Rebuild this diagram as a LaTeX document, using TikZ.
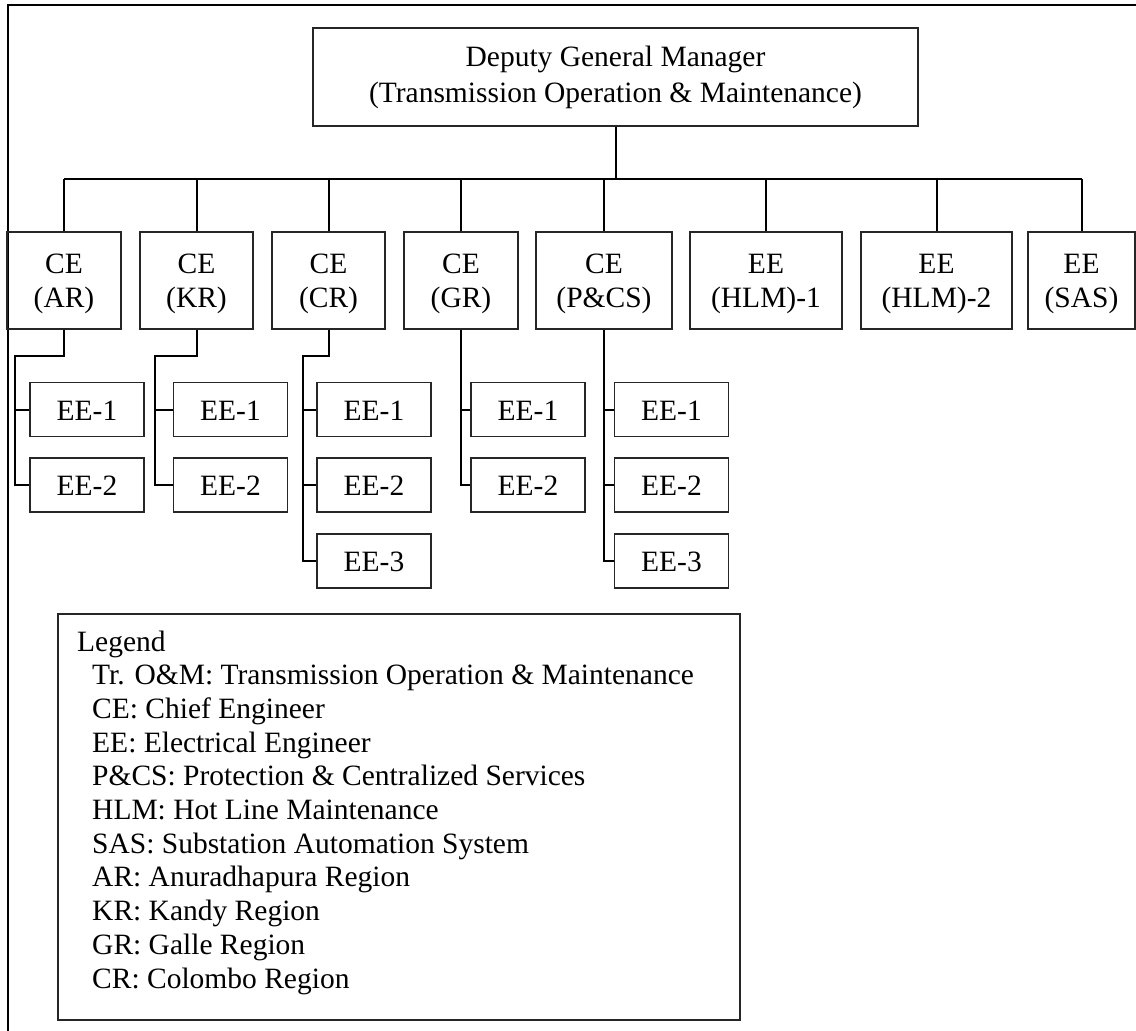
\documentclass[tikz,border=0pt]{standalone}
\usepackage{fontspec}
\setmainfont{Liberation Serif}
\begin{document}
\begin{tikzpicture}[x=1pt,y=-1pt,
  box/.style={draw=black!85, line width=1.3pt, align=center, inner sep=0pt,
    font=\fontsize{29.5}{34}\selectfont},
  cebox/.style={box, minimum height=97pt, text height=61pt, text depth=7pt},
  eebox/.style={box, minimum width=114pt, minimum height=54pt,
    text height=24pt, text depth=3pt},
  conn/.style={line width=2pt, line join=miter}]
\useasboundingbox (0,0) rectangle (1136,1031);

% outer frame (top and left edges)
\draw[line width=2pt] (7.5,1031) -- (7.5,4.5) -- (1136,4.5);

% head of the organisation
\node[box, font=\fontsize{29.5}{36}\selectfont, minimum width=605pt,
  minimum height=98pt, text height=56pt, text depth=6pt] (dgm) at (615.5,77)
  {Deputy General Manager\\(Transmission Operation \& Maintenance)};

% second level
\node[cebox, minimum width=114pt] (ar)   at (64,280.5)    {CE\\(AR)};
\node[cebox, minimum width=113pt] (kr)   at (196.5,280.5) {CE\\(KR)};
\node[cebox, minimum width=113pt] (cr)   at (328.5,280.5) {CE\\(CR)};
\node[cebox, minimum width=114pt] (gr)   at (461,280.5)   {CE\\(GR)};
\node[cebox, minimum width=136pt] (pcs)  at (604,280.5)   {CE\\(P\&CS)};
\node[cebox, minimum width=152pt] (hlma) at (766,280.5)   {EE\\(HLM)-1};
\node[cebox, minimum width=151pt] (hlmb) at (936.5,280.5) {EE\\(HLM)-2};
\node[cebox, minimum width=107pt] (sas)  at (1081.5,280.5) {EE\\(SAS)};

% third level
\node[eebox] (ar1) at (87,409.5) {EE-1};
\node[eebox] (ar2) at (87,485)   {EE-2};
\node[eebox] (kr1) at (230.5,409.5) {EE-1};
\node[eebox] (kr2) at (230.5,485)   {EE-2};
\node[eebox] (cr1) at (374,409.5) {EE-1};
\node[eebox] (cr2) at (374,485)   {EE-2};
\node[eebox] (cr3) at (374,561)   {EE-3};
\node[eebox] (gr1) at (528,409.5) {EE-1};
\node[eebox] (gr2) at (528,485)   {EE-2};
\node[eebox] (pcs1) at (671.5,409.5) {EE-1};
\node[eebox] (pcs2) at (671.5,485)   {EE-2};
\node[eebox] (pcs3) at (671.5,561)   {EE-3};

% bus from the head to the second level
\coordinate (bus) at (0,179);
\draw[conn] (dgm.south) -- (dgm.south |- bus);
\draw[conn] (ar.north |- bus) -- (sas.north |- bus);
\foreach \n in {ar,kr,cr,gr,pcs,hlma,hlmb,sas}
  \draw[conn] (\n.north) -- (\n.north |- bus);

% spines down to the third level
\coordinate (arsp) at (14.5,356);
\coordinate (krsp) at (155,356);
\coordinate (crsp) at (303,356);
\draw[conn] (ar.south) |- (arsp) |- (ar2.west);
\draw[conn] (arsp |- ar1.west) -- (ar1.west);
\draw[conn] (kr.south) |- (krsp) |- (kr2.west);
\draw[conn] (krsp |- kr1.west) -- (kr1.west);
\draw[conn] (cr.south) |- (crsp) |- (cr3.west);
\draw[conn] (crsp |- cr1.west) -- (cr1.west);
\draw[conn] (crsp |- cr2.west) -- (cr2.west);
\draw[conn] (gr.south) |- (gr2.west);
\draw[conn] (gr.south |- gr1.west) -- (gr1.west);
\draw[conn] (pcs.south) |- (pcs3.west);
\draw[conn] (pcs.south |- pcs1.west) -- (pcs1.west);
\draw[conn] (pcs.south |- pcs2.west) -- (pcs2.west);

% legend (the node's base is the baseline of its last line)
\draw[draw=black!85, line width=1.3pt] (58,614) rectangle (740,1020);
\node[anchor=base west, inner sep=0pt, align=left,
  font=\fontsize{29.5}{33.7}\selectfont] (legend) at (77,988)
  {Legend\\
   \hspace*{15pt}Tr. O\&M: Transmission Operation \& Maintenance\\
   \hspace*{15pt}CE: Chief Engineer\\
   \hspace*{15pt}EE: Electrical Engineer\\
   \hspace*{15pt}P\&CS: Protection \& Centralized Services\\
   \hspace*{15pt}HLM: Hot Line Maintenance\\
   \hspace*{15pt}SAS: Substation Automation System\\
   \hspace*{15pt}AR: Anuradhapura Region\\
   \hspace*{15pt}KR: Kandy Region\\
   \hspace*{15pt}GR: Galle Region\\
   \hspace*{15pt}CR: Colombo Region};
\end{tikzpicture}
\end{document}
